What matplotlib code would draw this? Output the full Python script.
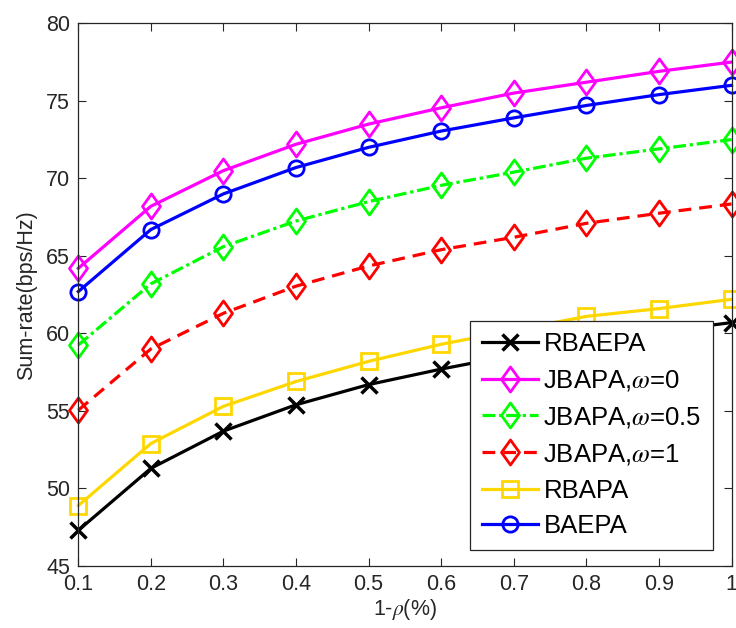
import matplotlib
matplotlib.use('Agg')
import matplotlib.pyplot as plt
from matplotlib.path import Path

plt.rcParams['font.family'] = ['Liberation Sans', 'DejaVu Sans']
plt.rcParams['mathtext.fontset'] = 'stix'

rho = [0.1, 0.2, 0.3, 0.4, 0.5, 0.6, 0.7, 0.8, 0.9, 1.0]
xticklabels = ['0.1', '0.2', '0.3', '0.4', '0.5', '0.6', '0.7', '0.8', '0.9', '1']
yticks = [45, 50, 55, 60, 65, 70, 75, 80]

rbaepa = [47.3, 51.3, 53.7, 55.4, 56.7, 57.7, 58.6, 59.4, 60.1, 60.7]
jbapa_w0 = [64.2, 68.2, 70.5, 72.2, 73.5, 74.55, 75.5, 76.2, 76.9, 77.5]
jbapa_w05 = [59.25, 63.2, 65.6, 67.25, 68.5, 69.55, 70.4, 71.3, 71.9, 72.5]
jbapa_w1 = [55.05, 59.0, 61.3, 63.05, 64.35, 65.4, 66.2, 67.1, 67.75, 68.35]
rbapa = [48.9, 52.9, 55.3, 56.9, 58.2, 59.3, 60.2, 61.1, 61.6, 62.2]
baepa = [62.7, 66.7, 69.0, 70.7, 72.0, 73.05, 73.9, 74.7, 75.4, 76.0]

# diamond a bit taller than wide
diamond = Path([(0, 1), (0.72, 0), (0, -1), (-0.72, 0), (0, 1)],
               [Path.MOVETO, Path.LINETO, Path.LINETO, Path.LINETO, Path.CLOSEPOLY])

fig = plt.figure(figsize=(7.36, 6.28), dpi=100)
ax = fig.add_axes([0.1064, 0.0987, 0.8875, 0.8642])

lw = 2.3
ms = 11
mew = 2.0
dia = dict(marker=diamond, markersize=18, markeredgewidth=mew, markerfacecolor='none')
ax.plot(rho, rbaepa, color='black', linestyle='-', marker='x', linewidth=lw,
        markersize=ms + 1, markeredgewidth=mew + 0.5, label='RBAEPA', clip_on=False)
ax.plot(rho, jbapa_w0, color='#ff00ff', linestyle='-', linewidth=lw,
        label='JBAPA,$\\omega$=0', clip_on=False, **dia)
ax.plot(rho, jbapa_w05, color='#00ff00', linestyle=(0, (4, 1.2, 1, 1.2)), linewidth=lw,
        label='JBAPA,$\\omega$=0.5', clip_on=False, **dia)
ax.plot(rho, jbapa_w1, color='#ff0000', linestyle=(0, (4, 2.5)), linewidth=lw,
        label='JBAPA,$\\omega$=1', clip_on=False, **dia)
ax.plot(rho, rbapa, color='#ffd700', linestyle='-', marker='s', linewidth=lw,
        markersize=ms, markeredgewidth=mew, markerfacecolor='none',
        label='RBAPA', clip_on=False)
ax.plot(rho, baepa, color='#0000ff', linestyle='-', marker='o', linewidth=lw,
        markersize=ms, markeredgewidth=mew, markerfacecolor='none',
        label='BAEPA', clip_on=False)

ax.set_xlim(0.1, 1.0)
ax.set_ylim(45, 80)
ax.set_xticks(rho)
ax.set_xticklabels(xticklabels)
ax.set_yticks(yticks)
ax.tick_params(direction='in', top=True, right=True, length=6, width=0.8,
               labelsize=15.5, colors='#262626', pad=6)
for s in ax.spines.values():
    s.set_linewidth(0.9)
    s.set_color('#262626')

ax.set_xlabel('1-$\\rho$(%)', fontsize=15.5, color='#262626', labelpad=1)
ax.set_ylabel('Sum-rate(bps/Hz)', fontsize=15.5, color='#262626', labelpad=6)

leg = ax.legend(loc='upper left', bbox_to_anchor=(0.6, 0.452), borderaxespad=0,
                fontsize=18.5, handlelength=2.2, handletextpad=0.2, labelspacing=0.46,
                borderpad=0.45, fancybox=False, framealpha=1)
leg.get_frame().set_edgecolor('#262626')
leg.get_frame().set_linewidth(0.9)

fig.savefig('out.png', dpi=100)
